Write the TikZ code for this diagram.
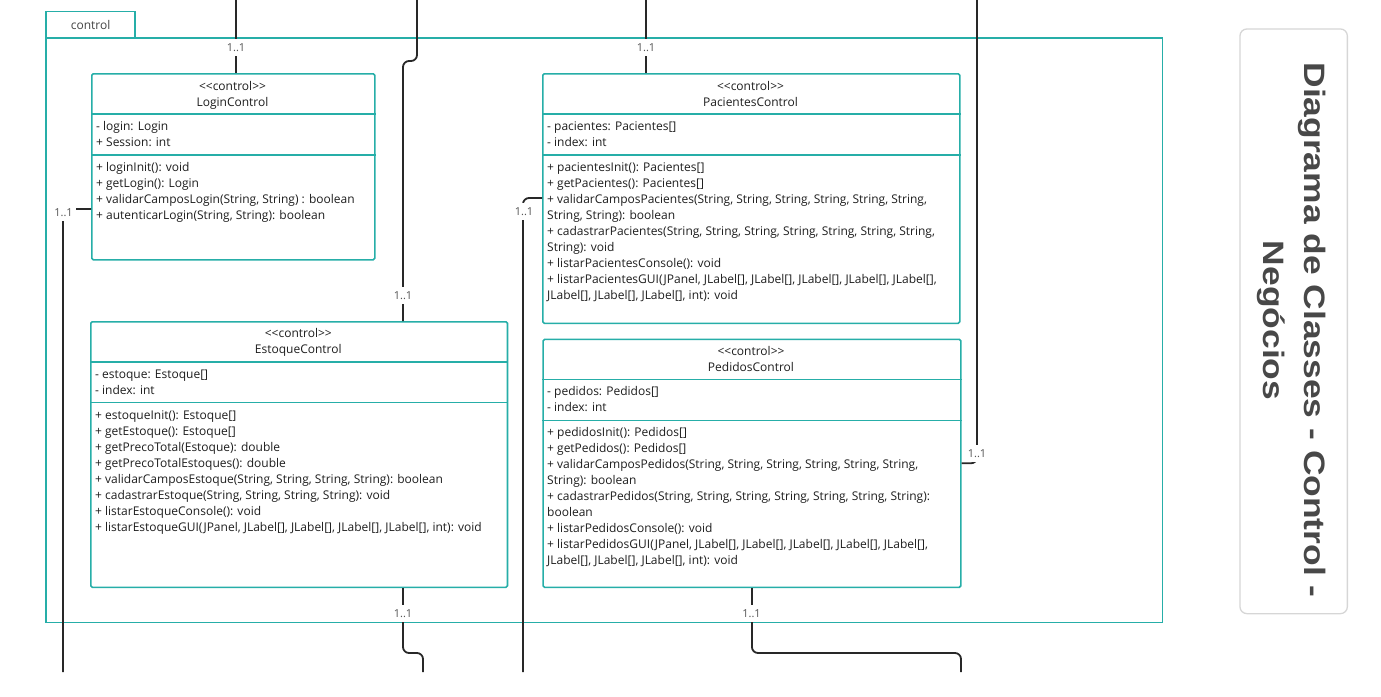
\documentclass[tikz,border=0pt]{standalone}
\usepackage{fontspec}
\usepackage{graphicx}
\setmainfont{Open Sans}
\newfontfamily\titlefont{Liberation Sans}
\definecolor{teal2}{RGB}{38,174,168}
\definecolor{conncol}{RGB}{40,40,40}
\definecolor{multcol}{RGB}{85,85,85}
\definecolor{txtcol}{RGB}{30,30,30}
\definecolor{panelcol}{RGB}{214,214,214}
\definecolor{titlecol}{RGB}{72,72,72}
\newcommand\firststrut{\rule{0pt}{12pt}}
\newcommand\stereo{<\kern0pt<control>\kern0pt>}
\tikzset{
  pkgbox/.style={draw=teal2, line width=1.7pt, anchor=north west, inner sep=0pt},
  clsbox/.style={draw=teal2, line width=1.6pt, rounded corners=1.5pt, fill=white, anchor=north west, inner sep=0pt},
  divline/.style={draw=teal2, line width=1.5pt},
  hdr/.style={anchor=north, align=center, inner sep=0pt, font=\fontsize{12}{16}\selectfont, text=txtcol},
  body/.style={anchor=north west, align=left, inner sep=0pt, font=\fontsize{12}{16}\selectfont, text=txtcol},
  conn/.style={draw=conncol, line width=1.8pt, rounded corners=6pt},
  mult/.style={fill=white, text=multcol, font=\fontsize{11}{13}\selectfont, inner xsep=3pt, inner ysep=4.5pt, anchor=base},
  titletxt/.style={rotate=-90, anchor=base, text=titlecol, inner sep=0pt, font=\titlefont\bfseries\fontsize{29.5}{34}\selectfont}
}
\begin{document}
\begin{tikzpicture}[x=1pt,y=-1pt]
\useasboundingbox (0,0) rectangle (1381,696);

% package
\node[pkgbox, minimum width=1116.4, minimum height=584.4] (pkg) at (45.3,37.3) {};
\node[pkgbox, minimum width=89, minimum height=26.6, font=\fontsize{12}{14}\selectfont, text=multcol!80!black] (tab) at (45.3,10.7) {control};

% LoginControl
\node[clsbox, minimum width=283, minimum height=186] (login) at (91,73) {};
\draw[divline] (login.west |- 0,114) -- (login.east |- 0,114);
\draw[divline] (login.west |- 0,155) -- (login.east |- 0,155);
\node[hdr] (loginH) at (232.5,78) {\firststrut\stereo\\LoginControl};
\node[body] (loginA) at (96,118.5) {\firststrut- login: Login\\+ Session: int};
\node[body] (loginM) at (96,159) {\firststrut+ loginInit(): void\\+ getLogin(): Login\\+ validarCamposLogin(String, String) : boolean\\+ autenticarLogin(String, String): boolean};

% PacientesControl
\node[clsbox, minimum width=417, minimum height=249.5] (pac) at (542,73) {};
\draw[divline] (pac.west |- 0,114) -- (pac.east |- 0,114);
\draw[divline] (pac.west |- 0,155) -- (pac.east |- 0,155);
\node[hdr] (pacH) at (750.5,78) {\firststrut\stereo\\PacientesControl};
\node[body] (pacA) at (547,118.5) {\firststrut- pacientes: Pacientes[]\\- index: int};
\node[body] (pacM) at (547,159) {\firststrut+ pacientesInit(): Pacientes[]\\+ getPacientes(): Pacientes[]\\+ validarCamposPacientes(String, String, String, String, String, String,\\String, String): boolean\\+ cadastrarPacientes(String, String, String, String, String, String, String,\\String): void\\+ listarPacientesConsole(): void\\+ listarPacientesGUI(JPanel, JLabel[], JLabel[], JLabel[], JLabel[], JLabel[],\\JLabel[], JLabel[], JLabel[], int): void};

% EstoqueControl
\node[clsbox, minimum width=416.7, minimum height=265.5] (est) at (90,321) {};
\draw[divline] (est.west |- 0,362) -- (est.east |- 0,362);
\draw[divline] (est.west |- 0,402.5) -- (est.east |- 0,402.5);
\node[hdr] (estH) at (298.3,325) {\firststrut\stereo\\EstoqueControl};
\node[body] (estA) at (95,366) {\firststrut- estoque: Estoque[]\\- index: int};
\node[body] (estM) at (95,407) {\firststrut+ estoqueInit(): Estoque[]\\+ getEstoque(): Estoque[]\\+ getPrecoTotal(Estoque): double\\+ getPrecoTotalEstoques(): double\\+ validarCamposEstoque(String, String, String, String): boolean\\+ cadastrarEstoque(String, String, String, String): void\\+ listarEstoqueConsole(): void\\+ listarEstoqueGUI(JPanel, JLabel[], JLabel[], JLabel[], JLabel[], int): void};

% PedidosControl
\node[clsbox, minimum width=417.7, minimum height=248] (ped) at (542.3,338.5) {};
\draw[divline] (ped.west |- 0,379.5) -- (ped.east |- 0,379.5);
\draw[divline] (ped.west |- 0,420.5) -- (ped.east |- 0,420.5);
\node[hdr] (pedH) at (751,343.5) {\firststrut\stereo\\PedidosControl};
\node[body] (pedA) at (547,383.5) {\firststrut- pedidos: Pedidos[]\\- index: int};
\node[body] (pedM) at (547,424.5) {\firststrut+ pedidosInit(): Pedidos[]\\+ getPedidos(): Pedidos[]\\+ validarCamposPedidos(String, String, String, String, String, String,\\String): boolean\\+ cadastrarPedidos(String, String, String, String, String, String, String):\\boolean\\+ listarPedidosConsole(): void\\+ listarPedidosGUI(JPanel, JLabel[], JLabel[], JLabel[], JLabel[], JLabel[],\\JLabel[], JLabel[], JLabel[], int): void};

% free ends
\coordinate (t1) at (236,0);
\coordinate (t2) at (417,0);
\coordinate (t3) at (646,0);
\coordinate (t4) at (977,0);
\coordinate (b1) at (63,672);
\coordinate (b2) at (523,672);
\coordinate (b3) at (423,672);
\coordinate (b4) at (961,672);

% connectors
\draw[conn] (t1) -- (t1 |- login.north);
\draw[conn] (t2) |- (403,61) -- (403,0 |- est.north);
\draw[conn] (t3) -- (t3 |- pac.north);
\draw[conn] (t4) |- (ped.east);
\draw[conn] (b1) |- (login.west |- 0,209);
\draw[conn] (b2) |- (pac.west |- 0,198);
\draw[conn] (403,0 |- est.south) |- (423,653) -- (b3);
\draw[conn] (ped.south) |- (961,653) -- (b4);

% multiplicities
\node[mult] (m1) at (236,51.3) {1..1};
\node[mult] (m2) at (403,299) {1..1};
\node[mult] (m3) at (646,51.3) {1..1};
\node[mult] (m4) at (977,457) {1..1};
\node[mult] (m5) at (63.5,216) {1..1};
\node[mult] (m6) at (524,215) {1..1};
\node[mult] (m7) at (403,617) {1..1};
\node[mult] (m8) at (751.5,617) {1..1};

% title panel
\node[draw=panelcol, line width=1.3pt, rounded corners=7pt, minimum width=107.4, minimum height=584.7, anchor=north west, inner sep=0pt] (panel) at (1239.3,28.3) {};
\node[titletxt] (title1) at (1304,330) {\scalebox{1.2}[1]{Diagrama de Classes - Control -}};
\node[titletxt] (title2) at (1263,320.5) {\scalebox{1.2}[1]{Negócios}};
\end{tikzpicture}
\end{document}
